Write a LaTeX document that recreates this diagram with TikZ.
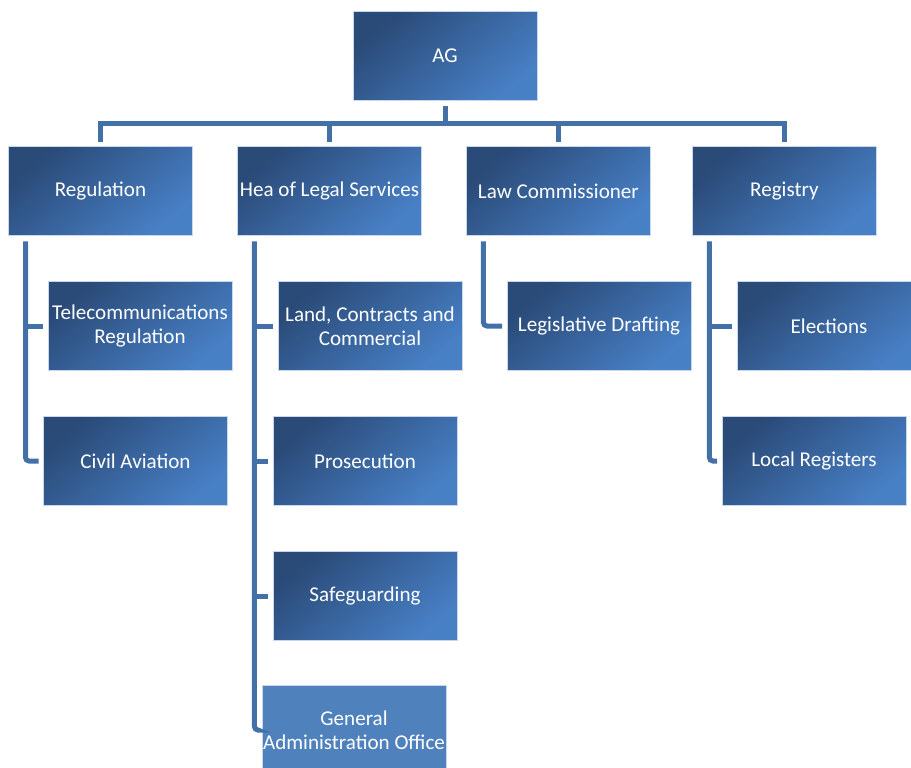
\documentclass[tikz,border=0pt]{standalone}
\usepackage{fontspec}
\setmainfont{Carlito}
\usetikzlibrary{positioning}
\definecolor{boxdark}{HTML}{2A4A77}
\definecolor{boxlight}{HTML}{4880C6}
\definecolor{boxflat}{HTML}{4F81BD}
\definecolor{boxedge}{HTML}{C9D7EB}
\definecolor{linkblue}{HTML}{4470A8}

\begin{document}
\begin{tikzpicture}[x=0.02cm,y=-0.02cm,
                    unit/.style={rectangle,minimum width=3.68cm,minimum height=1.78cm,
                                 inner sep=0pt,outer sep=0pt,draw=boxedge,line width=0.4pt,
                                 text=white,align=center,font=\fontsize{12}{13.6}\selectfont},
                    shaded unit/.style={unit,top color=boxdark,bottom color=boxlight,shading angle=40},
                    flat unit/.style={unit,fill=boxflat},
                    link/.style={draw=linkblue,line width=0.1cm,shorten >=0.1cm,shorten <=0.12cm}]
\useasboundingbox (0,0) rectangle (911,767);
\clip (0,0) rectangle (911,767);

        % top
        \node[shaded unit]                         (ag)       at (445,56)   {AG};

        % first level
        \node[shaded unit]                         (reg)      at (100.5,191) {Regulation};
        \node[shaded unit, right=0.9cm of reg]     (legal)                     {Hea of Legal Services};
        \node[shaded unit, right=0.9cm of legal]   (lawcom)                    {Law Commissioner};
        \node[shaded unit, right=0.84cm of lawcom] (registry)                  {Registry};

        % second level
        \node[shaded unit]                         (telecom)  at (140,326)  {Telecommunications\\Regulation};
        \node[shaded unit]                         (aviation) at (135.5,461) {Civil Aviation};

        \node[shaded unit]                         (land)     at (370,326)  {Land, Contracts and\\Commercial};
        \node[shaded unit]                         (prosec)   at (365,461)  {Prosecution};
        \node[shaded unit]                         (safe)     at (365,596)  {Safeguarding};
        \node[flat unit]                           (genadmin) at (354,730)  {General\\Administration Office};

        \node[shaded unit]                         (drafting) at (599,326)  {Legislative Drafting};

        \node[shaded unit]                         (elect)    at (829,326)  {Elections};
        \node[shaded unit]                         (localreg) at (814,461)  {Local Registers};

        % spines
        \coordinate (bus)         at (445,123);
        \coordinate (regspine)    at ([xshift=0.34cm]reg.south west);
        \coordinate (legalspine)  at ([xshift=0.34cm]legal.south west);
        \coordinate (lawspine)    at ([xshift=0.34cm]lawcom.south west);
        \coordinate (regisspine)  at ([xshift=0.34cm]registry.south west);

        \draw[link, shorten >=0pt]     (ag.south) -- (ag.south |- bus);
        \draw[link, shorten <=0.1cm]   (reg.north) -- (reg.north |- bus) -- (registry.north |- bus) -- (registry.north);
        \foreach \n in {legal,lawcom}
          \draw[link, shorten <=0pt]   (\n.north |- bus) -- (\n.north);

        \draw[link, rounded corners=2pt] (regspine)   |- (aviation.west);
        \draw[link, rounded corners=2pt] (legalspine) |- (genadmin.west);
        \draw[link, rounded corners=2pt] (lawspine)   |- (drafting.west);
        \draw[link, rounded corners=2pt] (regisspine) |- (localreg.west);

        \draw[link, shorten <=0pt] (regspine |- telecom.west)   -- (telecom.west);
        \draw[link, shorten <=0pt] (legalspine |- land.west)    -- (land.west);
        \draw[link, shorten <=0pt] (legalspine |- prosec.west)  -- (prosec.west);
        \draw[link, shorten <=0pt] (legalspine |- safe.west)    -- (safe.west);
        \draw[link, shorten <=0pt] (regisspine |- elect.west)   -- (elect.west);
        %end links

\end{tikzpicture}
\end{document}
